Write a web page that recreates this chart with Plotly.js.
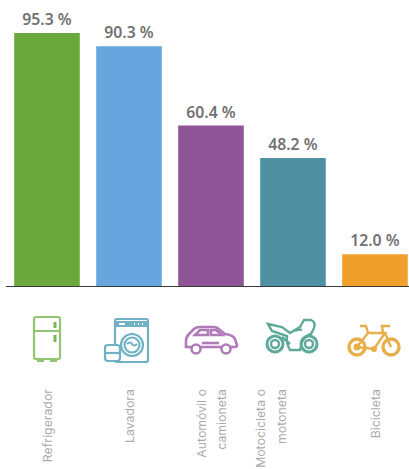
<!DOCTYPE html>
<html><head><meta charset="utf-8">
<script src="https://cdn.plot.ly/plotly-3.0.1.min.js"></script>
<style>html,body{margin:0;padding:0;background:#fff;overflow:hidden}#c{width:409px;height:469px}</style>
</head><body><div id="c"></div>
<script>
const labelLines = ["Refrigerador","Lavadora","Automóvil o","camioneta","Motocicleta o","motoneta","Bicicleta"];
const labelTicks = [0.012,1.012,1.89,2.13,2.61,2.87,4.012];
const values = [95.3,90.3,60.4,48.2,12.0];
const barColors = ["#6aa83c","#66a5de","#8f5596","#4f91a3","#ef9f2a"];
const xIndex = [0,1,2,3,4];

function svg(inner){
  return "data:image/svg+xml;utf8," + encodeURIComponent(
    '<svg xmlns="http://www.w3.org/2000/svg" width="120" height="120" viewBox="0 0 60 60"><filter id="b"><feGaussianBlur stdDeviation="0.35"/></filter><g filter="url(#b)">'+inner+'</g></svg>');
}
const fridge = '<g fill="none" stroke="#94c572" stroke-width="2.2"><rect x="17" y="8" width="26" height="42" rx="2"/><path d="M17 22H43M21 50v2h5v-2M34 50v2h5v-2"/></g><g stroke="#7fb55a" stroke-width="3"><path d="M38 13v6M38 26v7"/></g>';
const washer = '<g fill="none" stroke="#6fb1c4" stroke-width="2.2"><rect x="16" y="7" width="33" height="43" rx="2"/><path d="M16 16H49" stroke-width="6" transform="translate(0,-4)"/><circle cx="33" cy="33" r="11"/><circle cx="33" cy="33" r="7.5"/><path d="M28 32q3 -3 5 0t5 0"/><rect x="6" y="33" width="15" height="16" rx="3" fill="#fff"/><path d="M6 41H21"/></g><path d="M20 12H26M35 12h1M39 12h1M43 12h1" stroke="#fff" stroke-width="2"/>';
const car = '<g fill="none" stroke="#b07ab8" stroke-width="2.6"><path d="M6 37V31q0-4 3-7l5-5q2-2 6-2h14q3 0 6 3l5 4q8 1 10 5l2 6q0 2-2 2H6z"/><path d="M15 25l5-5H28v5zM31 20h5l6 5H31z"/><circle cx="16" cy="39" r="4.5" fill="#fff"/><circle cx="46" cy="39" r="4.5" fill="#fff"/><path d="M22 33H39"/></g>';
const moto = '<g fill="none" stroke="#5ea99b" stroke-width="2.4"><circle cx="13" cy="36" r="8" stroke-width="3"/><circle cx="13" cy="36" r="4"/><circle cx="47" cy="36" r="8" stroke-width="3"/><circle cx="47" cy="36" r="4"/><path d="M6 16l14 3 8 6 10-6 4-7h7q5 2 3 8l-3 6q-6 2-9 8l-2 8H28q-4-7-3-14L10 23z"/><path d="M20 29L28 36M33 23q4-2 7-1"/></g>';
const bike = '<g fill="none" stroke="#e8ae4a" stroke-width="3.4"><circle cx="13" cy="36" r="8"/><circle cx="47" cy="36" r="8"/><path d="M13 36L24 22H41L30 38zM24 22L22 15H16M41 22L47 36M39 22L38 15H46" stroke-width="2.4"/></g><circle cx="13" cy="36" r="3.5" fill="#e8ae4a"/><circle cx="30" cy="38" r="3" fill="#e8ae4a"/>';
const iconSet = [fridge,washer,car,moto,bike];
const iconCenter = [47,129,210,292,374];
const iconMiddle = [339,342,340,338,341];

const W = 409, H = 469, L = 6, PH = 286, PW = W - L;
const images = iconSet.map((ic,i)=>({
  source: svg(ic), xref:"paper", yref:"paper",
  x: (iconCenter[i]-L)/PW, y: (PH-iconMiddle[i])/PH,
  sizex: 60/PW, sizey: 60/PH, xanchor:"center", yanchor:"middle", sizing:"contain", layer:"above"
}));

Plotly.newPlot("c",[{
  type:"bar", x:xIndex, y:values, width:0.8,
  marker:{color:barColors},
  text:values.map(v=>v.toFixed(1)+" %"),
  textposition:"outside", cliponaxis:false,
  textfont:{family:"Noto Sans",size:15.8,color:"#727272",weight:600},
  hoverinfo:"skip"
}],{
  width:W,height:H,showlegend:false,
  paper_bgcolor:"#fff",plot_bgcolor:"#fff",
  margin:{l:L,r:0,t:0,b:183,pad:0},
  bargap:0.2,
  xaxis:{range:[-0.5,4.415],tickmode:"array",tickvals:labelTicks,ticktext:labelLines,tickangle:-90,
    ticks:"",ticklabelstandoff:97,showgrid:false,zeroline:false,showline:true,linecolor:"#3a3a3a",linewidth:1.2,
    tickfont:{family:"Inter",size:12.3,color:"#ababab"},automargin:false},
  yaxis:{range:[0,107.7],visible:false,showgrid:false,zeroline:false,fixedrange:true},
  images:images
},{displayModeBar:false,staticPlot:true});
</script></body></html>
